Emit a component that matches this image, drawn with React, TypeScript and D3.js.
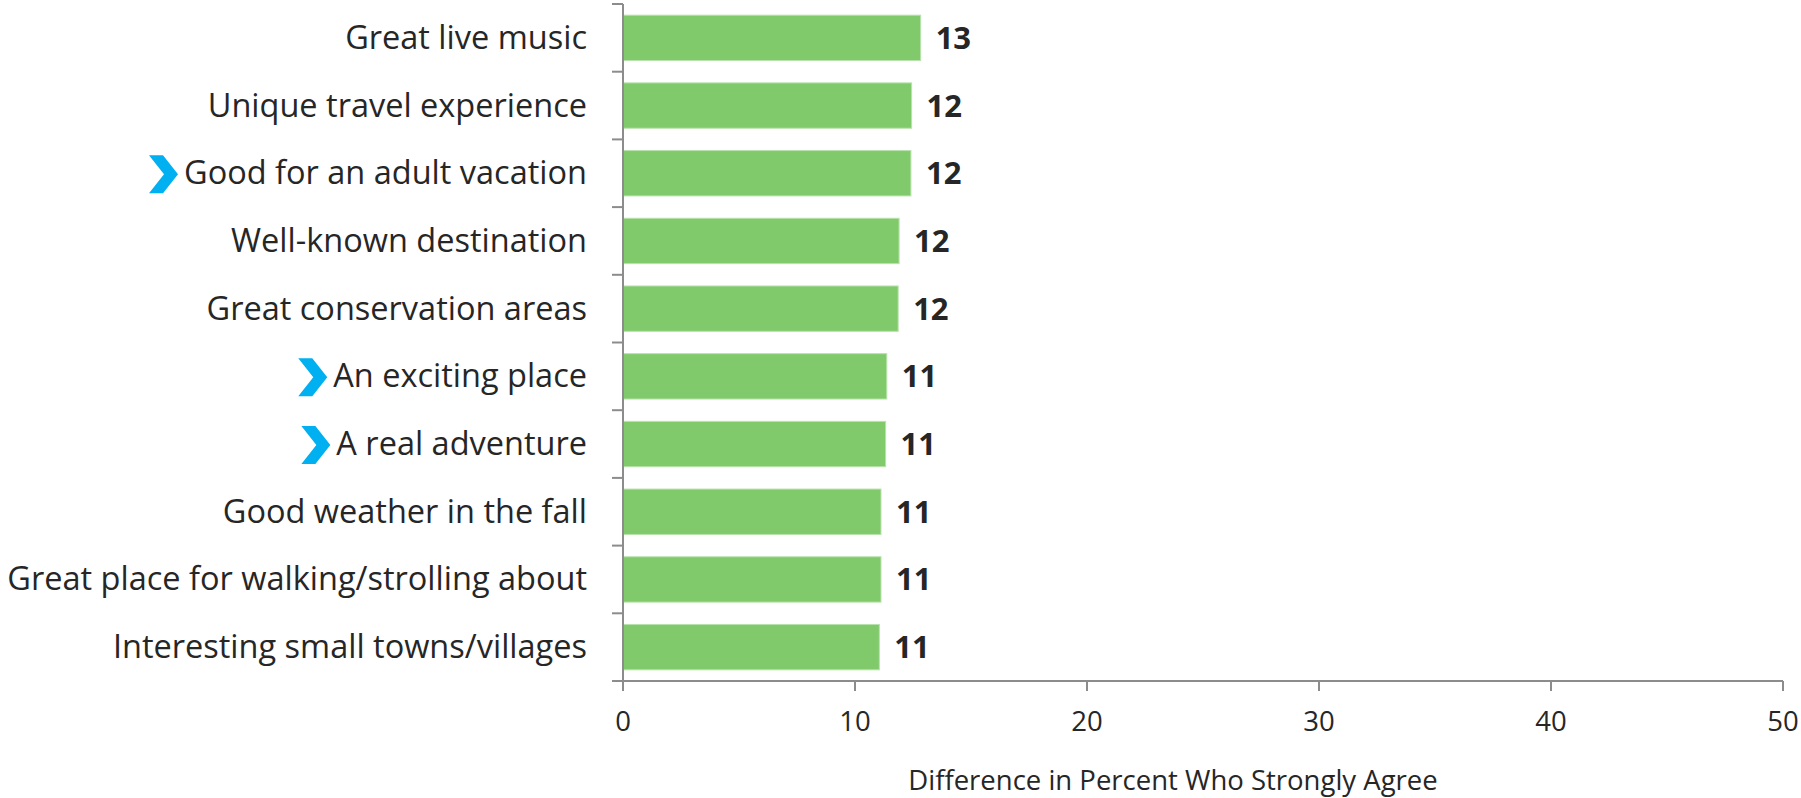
import React, { useEffect, useRef } from "react";
import * as d3 from "d3";

const categories = [
  "Great live music",
  "Unique travel experience",
  "Good for an adult vacation",
  "Well-known destination",
  "Great conservation areas",
  "An exciting place",
  "A real adventure",
  "Good weather in the fall",
  "Great place for walking/strolling about",
  "Interesting small towns/villages",
];
const values = [12.83, 12.44, 12.41, 11.9, 11.86, 11.37, 11.32, 11.12, 11.12, 11.05];
const valueLabels = ["13", "12", "12", "12", "12", "11", "11", "11", "11", "11"];
const highlighted = [false, false, true, false, false, true, true, false, false, false];
const xTicks = [0, 10, 20, 30, 40, 50];
const xTitle = "Difference in Percent Who Strongly Agree";

const W = 1801;
const H = 798;
const FONT = "'Open Sans', sans-serif";

export default function App() {
  const ref = useRef<SVGSVGElement>(null);

  useEffect(() => {
    const svg = d3.select(ref.current);
    svg.selectAll("*").remove();

    const x0 = 623, x1 = 1783, yTop = 4, yBot = 681;
    const x = d3.scaleLinear().domain([0, 50]).range([x0, x1]);
    const y = d3.scaleBand<string>().domain(categories).range([yTop, yBot]).paddingInner(0.33).paddingOuter(0.165);
    const band = (yBot - yTop) / categories.length;
    const axisColor = "#8c8c8c";
    const textColor = "#262626";

    // bars
    svg.append("g").selectAll("rect").data(categories).join("rect")
      .attr("x", x(0))
      .attr("y", (d) => y(d)!)
      .attr("width", (_, i) => x(values[i]) - x(0))
      .attr("height", y.bandwidth())
      .attr("fill", "#80ca6c")
      .attr("stroke", "#b9e2ad")
      .attr("stroke-width", 1);

    // y axis line and ticks
    svg.append("line").attr("x1", x0).attr("x2", x0).attr("y1", yTop).attr("y2", yBot)
      .attr("stroke", axisColor).attr("stroke-width", 2);
    const yTickPos = d3.range(categories.length + 1).map((i) => yTop + i * band);
    svg.append("g").selectAll("line").data(yTickPos).join("line")
      .attr("x1", x0 - 11).attr("x2", x0).attr("y1", (d) => d).attr("y2", (d) => d)
      .attr("stroke", axisColor).attr("stroke-width", 2);

    // x axis line and ticks
    svg.append("line").attr("x1", x0).attr("x2", x1).attr("y1", yBot).attr("y2", yBot)
      .attr("stroke", axisColor).attr("stroke-width", 2);
    svg.append("g").selectAll("line").data(xTicks).join("line")
      .attr("x1", (d) => x(d)).attr("x2", (d) => x(d)).attr("y1", yBot).attr("y2", yBot + 10)
      .attr("stroke", axisColor).attr("stroke-width", 2);
    svg.append("g").selectAll("text").data(xTicks).join("text")
      .attr("x", (d) => x(d)).attr("y", 730.5)
      .attr("text-anchor", "middle")
      .attr("font-family", FONT).attr("font-size", 27.5).attr("fill", textColor)
      .text((d) => String(d));

    svg.append("text").attr("x", 1173).attr("y", 790)
      .attr("text-anchor", "middle")
      .attr("font-family", FONT).attr("font-size", 27.5).attr("fill", textColor)
      .text(xTitle);

    // category labels
    const labels = svg.append("g").selectAll("text").data(categories).join("text")
      .attr("x", 587)
      .attr("y", (d) => y(d)! + y.bandwidth() / 2 + 11)
      .attr("text-anchor", "end")
      .attr("font-family", FONT).attr("font-size", 32.5).attr("fill", textColor)
      .text((d) => d);

    // chevrons for highlighted
    labels.each(function (d, i) {
      if (!highlighted[i]) return;
      const bb = (this as SVGTextElement).getBBox();
      const cy = y(d)! + y.bandwidth() / 2 + 1;
      const right = bb.x - 6;
      const w = 29, h = 38, t = 14;
      const left = right - w;
      const pts: [number, number][] = [
        [left, cy - h / 2],
        [left + t, cy - h / 2],
        [right, cy],
        [left + t, cy + h / 2],
        [left, cy + h / 2],
        [right - t, cy],
      ];
      svg.append("path").attr("d", d3.line()(pts)! + "Z").attr("fill", "#00b0f0");
    });

    // value labels
    svg.append("g").selectAll("text").data(categories).join("text")
      .attr("x", (_, i) => x(values[i]) + 15)
      .attr("y", (d) => y(d)! + y.bandwidth() / 2 + 11)
      .attr("font-family", FONT).attr("font-size", 31).attr("font-weight", "bold").attr("fill", textColor)
      .text((_, i) => valueLabels[i]);
  }, []);

  return (
    <svg ref={ref} width={W} height={H} style={{ display: "block", position: "absolute", left: 0, top: 0 }} />
  );
}
